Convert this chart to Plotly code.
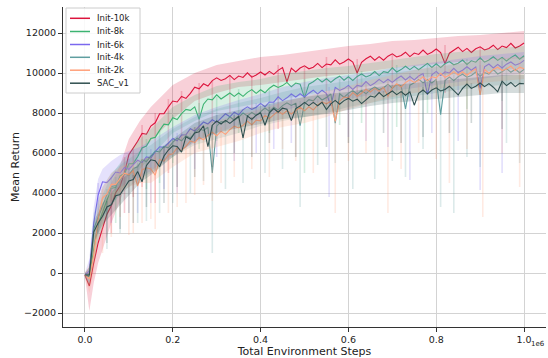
import plotly.graph_objects as go

# ---------------- data (x in units of 1e6 environment steps) ----------------
steps = [round(0.01 * i, 2) for i in range(101)]

init_10k = [-100, -650, 500, 1500, 2230, 2940, 3360, 4010, 4350, 5020,
            5910, 6230, 6590, 6980, 6940, 7350, 7510, 7960, 7970, 8310,
            8600, 8550, 8830, 8730, 8980, 9290, 9210, 9460, 9350, 9620,
            9760, 9630, 9710, 9880, 9670, 9850, 9780, 10010, 9790, 9900,
            10050, 9900, 10080, 9930, 10130, 10270, 9560, 10240, 10050, 10250,
            10360, 10210, 10290, 10480, 10270, 10450, 10410, 10660, 10440, 10550,
            10700, 10550, 10000, 10530, 10710, 10840, 10640, 10820, 10640, 10840,
            10960, 10800, 10880, 11040, 10820, 11000, 10930, 11150, 10930, 11040,
            11200, 11020, 10470, 10990, 11160, 11290, 11070, 11230, 11030, 11210,
            11310, 11150, 11230, 11390, 11170, 11350, 11270, 11480, 11250, 11350,
            11500]

init_8k = [-100, -200, 1200, 2400, 3030, 3590, 4230, 4290, 4850, 4960,
           5460, 5470, 5810, 6250, 6350, 6730, 6780, 7130, 7440, 7410,
           7760, 7670, 7970, 8180, 8130, 8310, 7680, 8440, 8700, 8660,
           8910, 8700, 8830, 9000, 8830, 9000, 8830, 9030, 9170, 8980,
           9160, 9010, 9240, 9390, 9280, 9370, 9530, 9310, 9500, 9440,
           8760, 9440, 9560, 9730, 9550, 9710, 9530, 9710, 9840, 9640,
           9810, 9630, 9830, 9950, 9800, 9890, 10070, 9870, 10070, 10020,
           10260, 10050, 10170, 10340, 10170, 10330, 10160, 10340, 10480, 10280,
           10460, 10270, 10460, 10570, 10410, 10490, 10650, 10430, 10610, 10540,
           10760, 10540, 10650, 10810, 10630, 10780, 10600, 10770, 10900, 10690,
           10860]

init_6k = [-100, 100, 2500, 3900, 4560, 4520, 4760, 5050, 5000, 5280,
           5180, 5430, 5640, 5530, 5810, 5750, 6070, 6310, 6280, 6490,
           6730, 6610, 6900, 6910, 7210, 7100, 7310, 7550, 7450, 7660,
           7530, 7760, 7960, 7810, 8040, 7910, 8170, 8310, 8180, 8290,
           8480, 8310, 8550, 8540, 8810, 8620, 8760, 8950, 8800, 8960,
           8800, 8990, 9140, 8950, 9140, 8970, 8370, 9280, 9130, 9220,
           9380, 9180, 9380, 9330, 9570, 9370, 9500, 9680, 9520, 9690,
           9530, 9710, 9850, 9650, 9830, 9650, 9850, 9970, 8920, 9910,
           10080, 9870, 10060, 10000, 10230, 10020, 10140, 10310, 10140, 10300,
           9230, 10310, 10450, 10250, 10430, 10250, 10440, 10550, 10390, 10470,
           10630]

init_4k = [-100, -100, 2200, 2800, 3350, 3920, 4310, 4380, 4640, 4980,
           4890, 5230, 5310, 5660, 5570, 5810, 6100, 6050, 6330, 6260,
           6530, 6740, 6610, 6860, 6750, 7020, 7210, 7130, 7290, 5000,
           7340, 7570, 7540, 7810, 7640, 7790, 8000, 7850, 8030, 7880,
           8080, 8250, 8080, 8290, 8150, 8370, 8510, 8380, 8490, 7370,
           8470, 8670, 8610, 8850, 8650, 8770, 8950, 7490, 8960, 8790,
           8980, 9130, 8940, 9130, 8960, 9170, 9300, 9160, 9260, 9440,
           9240, 9430, 9370, 8200, 9390, 9510, 9680, 9510, 9670, 9500,
           9680, 7920, 9620, 9800, 9620, 9820, 9940, 9790, 9880, 10050,
           9840, 10020, 9950, 10170, 9950, 10060, 10220, 10040, 10190, 10010,
           10180]

init_2k = [-100, -300, 900, 2700, 3750, 3950, 4430, 4430, 4730, 4990,
           4910, 5110, 4350, 5150, 5260, 5200, 4890, 5680, 5590, 5900,
           5960, 6260, 6120, 6330, 6600, 6520, 6780, 6660, 6880, 7040,
           6860, 7080, 6930, 7170, 7340, 7250, 7390, 7590, 7410, 7640,
           7610, 7880, 7720, 7890, 8100, 7940, 8110, 7950, 8130, 8290,
           8110, 8310, 8150, 8400, 8560, 8460, 8590, 7580, 8590, 8800,
           8760, 9020, 8840, 8990, 9190, 9050, 9230, 9080, 9280, 8840,
           9260, 9460, 9300, 9520, 9660, 9530, 9630, 9810, 9610, 9810,
           9760, 9990, 9780, 9900, 10070, 9900, 10060, 9890, 10070, 10210,
           8910, 10180, 9990, 10180, 10290, 10130, 10200, 10350, 10120, 10290,
           10210]

sac_v1 = [-100, -100, 2050, 2500, 2840, 3300, 3410, 3860, 3920, 4260,
          4600, 4670, 5080, 4560, 5380, 5660, 5610, 5310, 5850, 6150,
          6360, 6330, 6040, 6810, 6690, 7000, 7060, 7360, 6320, 7390,
          7600, 7450, 7630, 7480, 7680, 7840, 6760, 7850, 7680, 7890,
          8010, 7390, 8010, 8220, 8040, 8240, 8190, 7620, 8220, 8350,
          8530, 8370, 8530, 8360, 8530, 8170, 8460, 8630, 8440, 8620,
          8730, 8590, 8690, 8470, 8660, 8850, 8790, 9020, 8820, 8940,
          9100, 8920, 9070, 8890, 9060, 8390, 8980, 9150, 8960, 9150,
          9260, 9100, 9180, 9340, 9120, 8900, 9230, 9450, 9230, 9340,
          9500, 9320, 9470, 9290, 9060, 9590, 9370, 9530, 9320, 9480,
          9460]

# confidence bands (coarse sampling)
band_x = [0, 0.01, 0.02, 0.03, 0.04, 0.06, 0.08, 0.1, 0.125, 0.15, 0.2, 0.25, 0.3,
          0.35, 0.4, 0.45, 0.5, 0.55, 0.6, 0.65, 0.7, 0.75, 0.8, 0.85, 0.9, 0.95, 1.0]

up_10k = [0, 300, 1500, 2500, 3200, 4500, 5400, 6700, 7600, 8300, 9400, 10000, 10400, 10600,
          10800, 10900, 11050, 11200, 11350, 11450, 11600, 11650, 11750, 11850, 11900, 12000, 12100]
lo_10k = [-200, -1900, -500, 500, 1200, 2500, 3600, 5000, 6000, 6600, 7700, 8600, 9000, 9300,
          9400, 9550, 9700, 9850, 9950, 10100, 10250, 10350, 10450, 10550, 10650, 10700, 10750]
up_8k = [0, 300, 2000, 3200, 3900, 4900, 5500, 6000, 6700, 7200, 8300, 8900, 9350, 9550,
         9700, 9950, 10100, 10250, 10350, 10500, 10650, 10800, 10950, 11050, 11150, 11250, 11350]
lo_8k = [-200, -700, 400, 1600, 2300, 3300, 4100, 4600, 5200, 5800, 7000, 7600, 8100, 8300,
         8500, 8700, 8900, 9100, 9200, 9350, 9550, 9700, 9850, 9950, 10050, 10150, 10250]
up_6k = [0, 700, 3300, 4700, 5200, 5600, 5900, 6100, 6300, 6600, 7300, 7900, 8300, 8650,
         8950, 9300, 9550, 9750, 9900, 10050, 10250, 10400, 10550, 10700, 10850, 10950, 11050]
lo_6k = [-200, -500, 1700, 3100, 3600, 4000, 4300, 4500, 4800, 5100, 5900, 6500, 7000, 7400,
         7750, 8100, 8400, 8600, 8700, 8900, 9100, 9250, 9400, 9550, 9700, 9850, 9950]
up_4k = [0, 300, 3000, 3700, 4300, 5000, 5400, 5700, 6100, 6400, 7200, 7800, 8200, 8500,
         8750, 9050, 9300, 9450, 9600, 9800, 10000, 10150, 10300, 10450, 10600, 10700, 10800]
lo_4k = [-200, -500, 1400, 1900, 2700, 3400, 3900, 4300, 4700, 5000, 5800, 6400, 6700, 7000,
         7350, 7600, 7800, 8000, 8300, 8500, 8700, 8850, 9000, 9150, 9300, 9400, 9500]
up_2k = [0, 400, 1800, 3500, 4300, 5000, 5300, 5500, 5700, 5800, 6600, 7300, 7600, 7900,
         8200, 8550, 8800, 9100, 9350, 9650, 9900, 10150, 10350, 10500, 10650, 10750, 10800]
lo_2k = [-200, -1000, 0, 1900, 2900, 3600, 4000, 4300, 4500, 4500, 5300, 6000, 6300, 6600,
         7000, 7300, 7500, 7800, 8200, 8500, 8800, 9000, 9200, 9350, 9500, 9600, 9700]
up_sac = [0, 0, 2600, 3000, 3500, 4000, 4600, 5000, 5500, 5900, 6700, 7500, 7900, 8150,
          8350, 8600, 8800, 8950, 9050, 9250, 9400, 9500, 9600, 9700, 9800, 9900, 9900]
lo_sac = [-200, -200, 1500, 2000, 2400, 2900, 3400, 3900, 4500, 4900, 5800, 6600, 7000, 7250,
          7450, 7700, 7800, 7950, 8150, 8350, 8500, 8600, 8700, 8800, 8900, 9000, 9000]

# isolated low excursions of the bands (x, top, bottom)
spk_x_10k = [0.06, 0.09, 0.11, 0.13, 0.16, 0.19, 0.22, 0.26, 0.29, 0.33, 0.38, 0.44, 0.5, 0.55,
             0.62, 0.7, 0.82, 0.9]
spk_hi_10k = [4200, 5800, 6200, 7400, 8000, 8700, 9100, 9500, 9600, 9900, 9900, 10400, 10300, 10800,
              10700, 10900, 11400, 11300]
spk_lo_10k = [2000, 3000, 3800, 4300, 3500, 5000, 6200, 6800, 7500, 8000, 8200, 7200, 8800, 8500,
              8600, 9300, 9000, 9800]
spk_x_8k = [0.07, 0.1, 0.14, 0.17, 0.2, 0.26, 0.3, 0.35, 0.42, 0.5, 0.58, 0.63, 0.71, 0.78, 0.87, 0.95]
spk_hi_8k = [4800, 5400, 6700, 7100, 7900, 8500, 8800, 9200, 9200, 9700, 9700, 10100, 10400, 10400,
             10700, 10800]
spk_lo_8k = [2500, 3000, 4200, 4500, 5500, 6200, 6600, 7000, 7000, 5000, 7400, 7500, 7300, 8000,
             8200, 8600]
spk_x_6k = [0.03, 0.06, 0.1, 0.12, 0.15, 0.18, 0.21, 0.25, 0.3, 0.34, 0.39, 0.43, 0.47, 0.556,
            0.6, 0.64, 0.69, 0.74, 0.79, 0.85, 0.9, 0.95]
spk_hi_6k = [4500, 4800, 5700, 5500, 6200, 6300, 7000, 7100, 7900, 8000, 8500, 8600, 9000, 9300,
             9300, 9600, 9700, 10000, 10200, 10100, 10400, 10600]
spk_lo_6k = [2000, 2500, 3000, 3000, 3500, 4200, 4000, 5200, 5800, 5600, 6000, 6200, 6500, 3800,
             6800, 6600, 6300, 4650, 7000, 6600, 4150, 5000]
spk_x_4k = [0.05, 0.08, 0.12, 0.14, 0.17, 0.2, 0.24, 0.27, 0.29, 0.32, 0.36, 0.41, 0.45, 0.49,
            0.53, 0.57, 0.61, 0.66, 0.7, 0.73, 0.77, 0.81, 0.84, 0.87, 0.9, 0.96, 0.99]
spk_hi_4k = [4200, 4700, 5600, 5600, 6300, 6500, 7000, 7100, 7400, 7500, 7900, 8200, 8300, 8600,
             8700, 8900, 9100, 9300, 9400, 9600, 9500, 9800, 9900, 9800, 10100, 10300, 10100]
spk_lo_4k = [1200, 2000, 2500, 2600, 3000, 3500, 4000, 4600, 1000, 4200, 4500, 5000, 5200, 3300,
             5400, 5500, 4200, 4700, 5600, 4800, 6200, 3300, 3000, 5800, 5300, 6500, 5500]
spk_x_2k = [0.04, 0.06, 0.08, 0.1, 0.11, 0.13, 0.15, 0.16, 0.19, 0.21, 0.23, 0.25, 0.27, 0.29,
            0.31, 0.34, 0.38, 0.42, 0.45, 0.48, 0.52, 0.57, 0.6, 0.64, 0.69, 0.72, 0.76, 0.8,
            0.83, 0.87, 0.906, 0.95, 0.99]
spk_hi_2k = [4200, 4400, 5200, 5000, 5400, 5500, 5300, 5800, 6200, 6200, 6600, 6500, 7000, 6900,
             7300, 7300, 7800, 7800, 8300, 8100, 8700, 9000, 8800, 9400, 9600, 9300, 10000, 9800,
             10200, 10000, 10400, 10200, 10600]
spk_lo_2k = [1000, 1800, 2800, 1900, 2000, 2500, 2700, 2200, 3000, 3300, 3500, 3900, 4400, 3600,
             4500, 4800, 5200, 4800, 6200, 5600, 5000, 3000, 5600, 6000, 3000, 5200, 6500, 5700,
             4500, 6200, 2800, 6000, 4300]
spk_x_sac = [0.05, 0.08, 0.11, 0.14, 0.18, 0.21, 0.25, 0.29, 0.34, 0.38, 0.42, 0.48, 0.55, 0.6,
             0.68, 0.72, 0.77, 0.83, 0.88, 0.95]
spk_hi_sac = [3600, 4000, 4900, 5300, 6300, 6300, 7300, 7400, 7900, 7800, 8300, 8500, 8500, 8900,
              9100, 9100, 9300, 9300, 9500, 9500]
spk_lo_sac = [1500, 2200, 2500, 3300, 3500, 4300, 4800, 5300, 6000, 5800, 6500, 5800, 6300, 6500,
              7000, 6500, 6800, 7000, 7500, 7200]

labels = ["Init-10k", "Init-8k", "Init-6k", "Init-4k", "Init-2k", "SAC_v1"]
x_ticks = [0.0, 0.2, 0.4, 0.6, 0.8, 1.0]
x_tick_text = ["0.0", "0.2", "0.4", "0.6", "0.8", "1.0"]
y_ticks = [-2000, 0, 2000, 4000, 6000, 8000, 10000, 12000]
y_tick_text = ["\u22122000", "0", "2000", "4000", "6000", "8000", "10000", "12000"]

# ---------------- figure ----------------
colors = [(220, 20, 60), (60, 179, 113), (123, 104, 238), (95, 158, 160),
          (255, 160, 122), (47, 79, 79)]
means = [init_10k, init_8k, init_6k, init_4k, init_2k, sac_v1]
ups = [up_10k, up_8k, up_6k, up_4k, up_2k, up_sac]
los = [lo_10k, lo_8k, lo_6k, lo_4k, lo_2k, lo_sac]
spikes = [(spk_x_10k, spk_hi_10k, spk_lo_10k), (spk_x_8k, spk_hi_8k, spk_lo_8k),
          (spk_x_6k, spk_hi_6k, spk_lo_6k), (spk_x_4k, spk_hi_4k, spk_lo_4k),
          (spk_x_2k, spk_hi_2k, spk_lo_2k), (spk_x_sac, spk_hi_sac, spk_lo_sac)]


def rgba(c, a):
    return f"rgba({c[0]},{c[1]},{c[2]},{a})"


fig = go.Figure()
for name, c, m, u, lo, sp in zip(labels, colors, means, ups, los, spikes):
    fig.add_trace(go.Scatter(x=band_x + band_x[::-1], y=u + lo[::-1], fill="toself",
                             fillcolor=rgba(c, 0.2), line=dict(width=0), mode="lines",
                             hoverinfo="skip", showlegend=False))
    sx, sy = [], []
    for xx, hh, ll in zip(*sp):
        sx += [xx, xx, None]
        sy += [hh, ll, None]
    fig.add_trace(go.Scatter(x=sx, y=sy, mode="lines", line=dict(color=rgba(c, 0.22), width=1.6),
                             hoverinfo="skip", showlegend=False))
    fig.add_trace(go.Scatter(x=steps, y=m, mode="lines", name=name,
                             line=dict(color=rgba(c, 1), width=1.1), showlegend=False))

# legend drawn by hand (compact, matplotlib-like)
L, R, T, B = 63, 546, 7, 327
W, H = R - L, B - T


def px(xp):
    return (xp - L) / W


def py(yp):
    return (B - yp) / H


shapes = [dict(type="rect", xref="paper", yref="paper", x0=px(66), x1=px(140), y0=py(93), y1=py(8),
               fillcolor="rgba(255,255,255,0.85)", line=dict(color="#cccccc", width=1), layer="above")]
annotations = []
row_y = [18.3, 31.5, 44.5, 57.3, 70.2, 83.2]
for name, c, ry in zip(labels, colors, row_y):
    shapes.append(dict(type="line", xref="paper", yref="paper", x0=px(70), x1=px(90),
                       y0=py(ry), y1=py(ry), line=dict(color=rgba(c, 1), width=1.5), layer="above"))
    annotations.append(dict(xref="paper", yref="paper", x=px(95), y=py(ry), text=name,
                            showarrow=False, xanchor="left", yanchor="middle",
                            font=dict(family="DejaVu Sans", size=8.5, color="#222")))
annotations.append(dict(xref="paper", yref="paper", x=px(538), y=py(344), text="1e6",
                        showarrow=False, xanchor="center", yanchor="middle",
                        font=dict(family="DejaVu Sans", size=7, color="#222")))

axis_common = dict(showgrid=True, gridcolor="#d3d3d3", gridwidth=1, showline=True,
                   linecolor="#333333", linewidth=1, ticks="outside", ticklen=4,
                   tickcolor="#333333", zeroline=False,
                   tickfont=dict(family="DejaVu Sans", size=9.5, color="#222"))

fig.update_layout(
    width=548, height=358,
    margin=dict(l=L, r=548 - R, t=T, b=358 - B),
    plot_bgcolor="white", paper_bgcolor="white",
    showlegend=False,
    shapes=shapes, annotations=annotations,
    xaxis=dict(range=[-0.05, 1.05], tickvals=x_ticks, ticktext=x_tick_text,
               title=dict(text="Total Environment Steps", standoff=0,
                          font=dict(family="DejaVu Sans", size=11, color="#222")),
               **axis_common),
    yaxis=dict(range=[-2700, 13300], tickvals=y_ticks, ticktext=y_tick_text,
               title=dict(text="Mean Return", standoff=2,
                          font=dict(family="DejaVu Sans", size=11, color="#222")),
               **axis_common),
)

fig.write_html("out.html", config={"displayModeBar": False},
               post_script="document.body.style.margin='0px';")
